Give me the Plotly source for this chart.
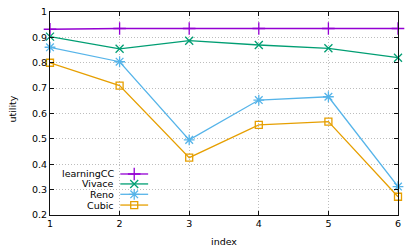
import plotly.graph_objects as go

index = [1, 2, 3, 4, 5, 6]
learningCC = [0.932, 0.935, 0.935, 0.935, 0.935, 0.935]
vivace = [0.903, 0.855, 0.887, 0.870, 0.857, 0.820]
reno = [0.861, 0.804, 0.496, 0.653, 0.666, 0.312]
cubic = [0.800, 0.710, 0.426, 0.555, 0.568, 0.272]

series_names = ["learningCC", "Vivace", "Reno", "Cubic"]
series_values = [learningCC, vivace, reno, cubic]
colors = ["#9400d3", "#009e73", "#56b4e9", "#e69f00"]
symbols = ["cross-thin-open", "x-thin-open", "asterisk-open", "square-open"]
msizes = [9, 8, 9, 7]

x_ticks = [1, 2, 3, 4, 5, 6]
y_ticks = [0.2, 0.3, 0.4, 0.5, 0.6, 0.7, 0.8, 0.9, 1.0]
y_ticklabels = ["0.2", "0.3", "0.4", "0.5", "0.6", "0.7", "0.8", "0.9", "1"]

FONT = "DejaVu Sans"
FS = 9.5
fig = go.Figure()

for name, vals, c, s, ms in zip(series_names, series_values, colors, symbols, msizes):
    fig.add_trace(go.Scatter(
        x=index, y=vals, mode="lines+markers", name=name,
        line=dict(color=c, width=1.3),
        marker=dict(symbol=s, size=ms, color=c, line=dict(color=c, width=1.3)),
        showlegend=False, cliponaxis=False,
    ))

# manual gnuplot-style legend (key sample on right of text) on an overlay axis
leg_x0, leg_x1, leg_xm, leg_tx = 0.202, 0.282, 0.242, 0.191
leg_rows = [0.202, 0.153, 0.102, 0.049]
for name, c, s, ms, ry in zip(series_names, colors, symbols, msizes, leg_rows):
    fig.add_trace(go.Scatter(
        x=[leg_x0, leg_x1], y=[ry, ry], mode="lines", xaxis="x2", yaxis="y2",
        line=dict(color=c, width=1.3), showlegend=False, hoverinfo="skip"))
    fig.add_trace(go.Scatter(
        x=[leg_xm], y=[ry], mode="markers", xaxis="x2", yaxis="y2",
        marker=dict(symbol=s, size=ms, color=c, line=dict(color=c, width=1.3)),
        showlegend=False, hoverinfo="skip"))
    fig.add_annotation(x=leg_tx, y=ry, xref="x2", yref="y2", text=name,
                       showarrow=False, xanchor="right", yanchor="middle",
                       font=dict(family=FONT, size=FS, color="#000"))

# axis titles
fig.add_annotation(x=-0.1105, y=0.522, xref="paper", yref="paper", text="utility",
                   textangle=-90, showarrow=False, xanchor="center", yanchor="middle",
                   font=dict(family=FONT, size=FS, color="#000"))
fig.add_annotation(x=0.5, y=-0.1315, xref="paper", yref="paper", text="index",
                   showarrow=False, xanchor="center", yanchor="middle",
                   font=dict(family=FONT, size=FS, color="#000"))

GRID = dict(showgrid=True, gridcolor="#bdbdbd", griddash="1px,2px", gridwidth=1)

fig.update_layout(
    width=415, height=249,
    margin=dict(l=49.5, r=17, t=12, b=34, autoexpand=False),
    paper_bgcolor="white", plot_bgcolor="white",
    font=dict(family=FONT, size=FS, color="#000"),
    xaxis=dict(
        range=[1, 6], tickvals=x_ticks, ticks="inside", ticklen=4, tickcolor="#111",
        showline=True, linecolor="#111", linewidth=1, mirror="ticks",
        zeroline=False, automargin=False, ticklabeloverflow="allow", **GRID,
    ),
    yaxis=dict(
        range=[0.2, 1], tickvals=y_ticks, ticktext=y_ticklabels,
        ticks="inside", ticklen=4, tickcolor="#111",
        showline=True, linecolor="#111", linewidth=1, mirror="ticks",
        zeroline=False, automargin=False, ticklabeloverflow="allow", **GRID,
    ),
    xaxis2=dict(range=[0, 1], overlaying="x", visible=False, domain=[0, 1], automargin=False),
    yaxis2=dict(range=[0, 1], overlaying="y", visible=False, automargin=False),
)

# remove the default 8px page margin so the figure fills the window exactly; hide the modebar
fig.write_html("out.html", config={"displayModeBar": False},
               post_script="document.body.style.margin='0';")
